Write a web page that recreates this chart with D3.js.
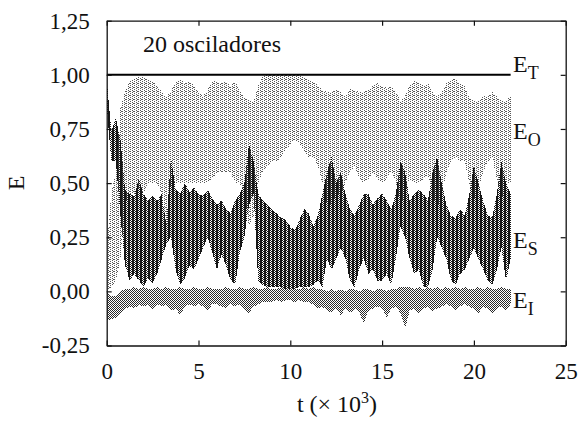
<!DOCTYPE html>
<html><head><meta charset="utf-8">
<script src="https://cdn.jsdelivr.net/npm/d3@7/dist/d3.min.js"></script>
<style>body{margin:0;background:#fff}svg{display:block}
svg text{font-family:"Liberation Serif","Tinos","Times New Roman","DejaVu Serif",serif;}</style>
</head><body>
<svg id="chart" width="581" height="423"></svg>
<script>
// sampling times (t x 10^3)
const times = [0,0.25,0.5,0.75,1,1.25,1.5,1.75,2,2.25,2.5,2.75,3,3.25,3.5,3.75,4,4.25,4.5,4.75,5,5.25,5.5,5.75,6,6.25,6.5,6.75,7,7.25,7.5,7.75,8,8.25,8.5,8.75,9,9.25,9.5,9.75,10,10.25,10.5,10.75,11,11.25,11.5,11.75,12,12.25,12.5,12.75,13,13.25,13.5,13.75,14,14.25,14.5,14.75,15,15.25,15.5,15.75,16,16.25,16.5,16.75,17,17.25,17.5,17.75,18,18.25,18.5,18.75,19,19.25,19.5,19.75,20,20.25,20.5,20.75,21,21.25,21.5,21.75,22];

// E_S oscillation envelope (upper / lower)
const esHigh = [0.98,0.74,0.80,0.70,0.47,0.45,0.44,0.52,0.45,0.42,0.44,0.42,0.45,0.30,0.62,0.47,0.45,0.50,0.46,0.48,0.45,0.44,0.47,0.43,0.40,0.42,0.38,0.36,0.42,0.45,0.50,0.68,0.60,0.45,0.42,0.40,0.38,0.36,0.34,0.33,0.30,0.28,0.33,0.38,0.36,0.30,0.35,0.45,0.55,0.62,0.50,0.55,0.45,0.38,0.35,0.40,0.45,0.45,0.40,0.43,0.45,0.42,0.38,0.45,0.60,0.55,0.42,0.45,0.47,0.45,0.42,0.55,0.62,0.50,0.40,0.35,0.34,0.38,0.35,0.45,0.58,0.50,0.42,0.35,0.34,0.45,0.60,0.50,0.45];
const esLow  = [0.86,0.60,0.60,0.35,0.12,0.05,0.08,0.05,0.02,0.06,0.04,0.08,0.15,0.22,0.25,0.10,0.03,0.06,0.12,0.10,0.15,0.20,0.25,0.18,0.10,0.17,0.12,0.05,0.03,0.18,0.25,0.40,0.45,0.05,0.03,0.02,0.02,0.02,0.02,0.01,0.01,0.01,0.02,0.02,0.02,0.03,0.05,0.02,0.15,0.10,0.15,0.20,0.15,0.05,0.02,0.10,0.15,0.08,0.10,0.05,0.05,0.08,0.03,0.15,0.30,0.25,0.15,0.08,0.10,0.02,0.02,0.10,0.25,0.20,0.15,0.05,0.03,0.08,0.10,0.15,0.20,0.15,0.10,0.05,0.03,0.10,0.20,0.05,0.15];

// E_O oscillation envelope
const eoHigh = [0.20,0.45,0.55,0.85,0.92,0.97,0.98,0.99,0.99,0.98,0.97,0.95,0.92,0.90,0.92,0.97,0.98,0.96,0.97,0.95,0.92,0.90,0.93,0.97,0.97,0.96,0.97,0.95,0.97,0.93,0.90,0.88,0.88,0.95,0.99,1.00,1.00,1.00,1.00,1.00,1.00,1.00,1.00,0.99,0.98,0.97,0.95,0.93,0.92,0.92,0.93,0.92,0.90,0.94,0.93,0.92,0.92,0.93,0.95,0.96,0.95,0.94,0.95,0.92,0.88,0.90,0.95,0.97,0.96,0.95,0.96,0.92,0.90,0.92,0.96,0.98,0.98,0.96,0.95,0.90,0.88,0.88,0.90,0.90,0.92,0.90,0.88,0.88,0.90];
const eoLow  = [0.00,0.02,0.05,0.15,0.40,0.45,0.45,0.48,0.45,0.50,0.50,0.50,0.45,0.30,0.50,0.50,0.50,0.50,0.50,0.50,0.50,0.50,0.50,0.52,0.55,0.55,0.55,0.55,0.50,0.50,0.45,0.30,0.35,0.50,0.55,0.58,0.60,0.60,0.62,0.65,0.68,0.70,0.68,0.65,0.62,0.62,0.58,0.50,0.40,0.40,0.45,0.45,0.50,0.55,0.58,0.52,0.50,0.52,0.55,0.52,0.50,0.52,0.56,0.50,0.40,0.45,0.52,0.50,0.50,0.52,0.54,0.45,0.38,0.45,0.55,0.60,0.62,0.60,0.60,0.50,0.42,0.48,0.55,0.60,0.62,0.52,0.42,0.50,0.50];

// E_I oscillation envelope
const eiHigh = [0.00,-0.02,-0.02,0.00,0.01,0.01,0.02,0.01,0.02,0.01,0.01,0.02,0.01,0.02,0.01,0.01,0.02,0.01,0.01,0.02,0.01,0.01,0.02,0.01,0.01,0.01,0.02,0.01,0.01,0.02,0.01,0.01,0.02,0.01,0.01,0.02,0.01,0.01,0.02,0.01,0.02,0.01,0.01,0.02,0.01,0.02,0.01,0.01,0.00,0.01,0.00,0.01,0.00,0.01,0.01,0.00,0.01,0.01,0.00,0.01,0.01,0.00,0.01,0.01,0.02,0.02,0.02,0.01,0.02,0.01,0.02,0.01,0.02,0.01,0.02,0.01,0.02,0.01,0.02,0.01,0.01,0.02,0.01,0.02,0.01,0.01,0.02,0.01,0.01];
const eiLow  = [-0.13,-0.13,-0.12,-0.10,-0.08,-0.07,-0.08,-0.06,-0.07,-0.06,-0.08,-0.06,-0.07,-0.06,-0.09,-0.08,-0.11,-0.07,-0.06,-0.07,-0.06,-0.07,-0.09,-0.06,-0.06,-0.07,-0.08,-0.06,-0.07,-0.06,-0.08,-0.10,-0.07,-0.06,-0.05,-0.05,-0.05,-0.04,-0.05,-0.04,-0.04,-0.05,-0.04,-0.05,-0.05,-0.06,-0.08,-0.07,-0.09,-0.10,-0.08,-0.11,-0.08,-0.10,-0.08,-0.09,-0.15,-0.09,-0.08,-0.07,-0.08,-0.12,-0.08,-0.07,-0.10,-0.17,-0.09,-0.08,-0.10,-0.08,-0.07,-0.09,-0.08,-0.07,-0.06,-0.07,-0.09,-0.07,-0.06,-0.07,-0.08,-0.10,-0.07,-0.08,-0.10,-0.08,-0.07,-0.09,-0.06];

// total energy
const etTimes = [0, 22];
const etValues = [1.0, 1.0];

const xTicks = [0,5,10,15,20,25];
const xTickLabels = ["0","5","10","15","20","25"];
const yTicks = [-0.25,0,0.25,0.5,0.75,1.0,1.25];
const yTickLabels = ["-0,25","0,00","0,25","0,50","0,75","1,00","1,25"];
const seriesLabels = [
  {main:"E", sub:"T", v:1.05},
  {main:"E", sub:"O", v:0.74},
  {main:"E", sub:"S", v:0.235},
  {main:"E", sub:"I", v:-0.04}
];

const svg = d3.select("#chart");
const L = 106.7, R = 565.7, T = 20.7, B = 345.5;
const x = d3.scaleLinear().domain([0,25]).range([L,R]);
const y = d3.scaleLinear().domain([-0.25,1.25]).range([B,T]);

const defs = svg.append("defs");
defs.append("clipPath").attr("id","clip").append("rect")
  .attr("x",L).attr("y",T).attr("width",R-L).attr("height",B-T);

function pattern(id, w, h, dots, color){
  const p = defs.append("pattern").attr("id",id).attr("patternUnits","userSpaceOnUse")
    .attr("width",w).attr("height",h);
  dots.forEach(d=>p.append("rect").attr("x",d[0]).attr("y",d[1]).attr("width",d[2]||1).attr("height",d[3]||1).attr("fill",color));
}
pattern("pO",4,4,[[0,0],[0,2],[2,1],[2,3],[1,3]],"#5a5a5a");
pattern("pS",4,4,[[0,0,2,4],[2,0],[3,1],[2,2],[3,3]],"#161616");
pattern("pI",2,2,[[0,0],[1,1]],"#2a2a2a");

const g = svg.append("g").attr("clip-path","url(#clip)");
function band(hi, lo, fill){
  const data = times.map((t,i)=>({t, hi:hi[i], lo:lo[i]}));
  g.append("path").datum(data)
    .attr("d", d3.area().x(d=>x(d.t)).y0(d=>y(d.lo)).y1(d=>y(d.hi)))
    .attr("fill", fill).attr("shape-rendering","crispEdges");
}
band(eoHigh, eoLow, "url(#pO)");
band(esHigh, esLow, "url(#pS)");
band(eiHigh, eiLow, "url(#pI)");

g.append("path").datum(etTimes.map((t,i)=>({t, v:etValues[i]})))
  .attr("d", d3.line().x(d=>x(d.t)).y(d=>y(d.v)))
  .attr("stroke","#000").attr("stroke-width",2).attr("fill","none");

function styleAxis(sel){
  sel.attr("font-family",null);
  sel.select(".domain").attr("stroke","#111").attr("stroke-width",1.3);
  sel.selectAll(".tick line").attr("stroke","#111").attr("stroke-width",1.2);
  sel.selectAll("text").attr("font-size",23).attr("fill","#111");
}
svg.append("g").attr("transform",`translate(0,${B})`)
  .call(d3.axisBottom(x).tickValues(xTicks).tickFormat((d,i)=>xTickLabels[i]).tickSizeInner(-5).tickSizeOuter(0).tickPadding(17))
  .call(styleAxis);
svg.append("g").attr("transform",`translate(0,${T})`)
  .call(d3.axisTop(x).tickValues(xTicks).tickFormat("").tickSizeInner(-5).tickSizeOuter(0))
  .call(styleAxis);
svg.append("g").attr("transform",`translate(${L},0)`)
  .call(d3.axisLeft(y).tickValues(yTicks).tickFormat((d,i)=>yTickLabels[i]).tickSizeInner(-5).tickSizeOuter(0).tickPadding(17))
  .call(styleAxis);
svg.append("g").attr("transform",`translate(${R},0)`)
  .call(d3.axisRight(y).tickValues(yTicks).tickFormat("").tickSizeInner(-5).tickSizeOuter(0))
  .call(styleAxis);

// annotation
svg.append("text").attr("x",143).attr("y",52).attr("font-size",24)
  .attr("fill","#111").text("20 osciladores");

// series labels
seriesLabels.forEach(s=>{
  const t = svg.append("text").attr("x",513).attr("y",y(s.v)+8)
    .attr("font-size",24).attr("fill","#111");
  t.append("tspan").text(s.main);
  t.append("tspan").attr("dy",7).attr("font-size",18).text(s.sub);
});

// axis titles
svg.append("text").attr("transform","translate(24,183) rotate(-90)")
  .attr("text-anchor","middle").attr("font-size",24).attr("fill","#111").text("E");
const xt = svg.append("text").attr("x",337).attr("y",412).attr("text-anchor","middle")
  .attr("font-size",24).attr("fill","#111");
xt.append("tspan").text("t (\u00d7 10");
xt.append("tspan").attr("dy",-9).attr("font-size",16).text("3");
xt.append("tspan").attr("dy",9).text(")");
</script>
</body></html>
